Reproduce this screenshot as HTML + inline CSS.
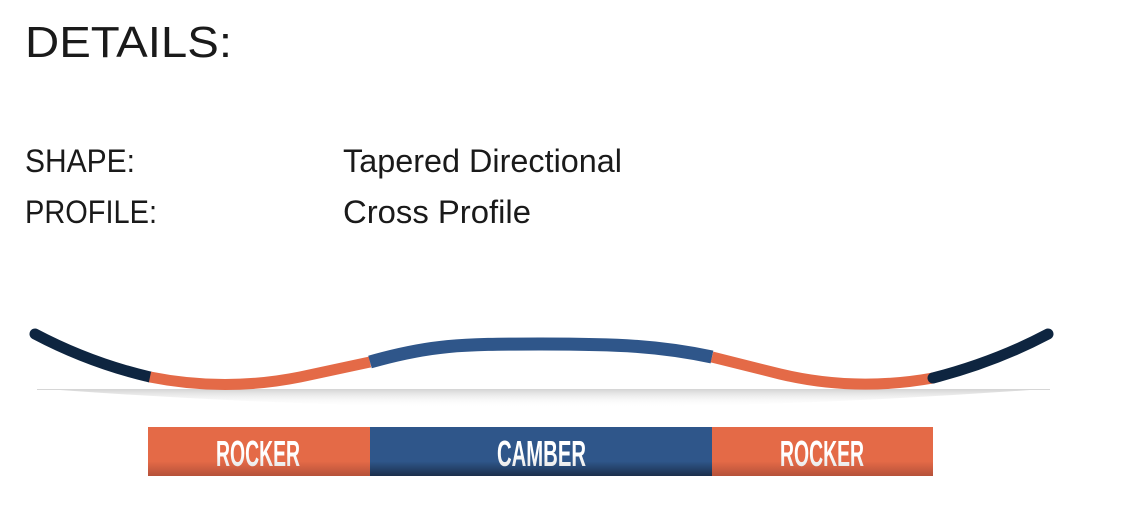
<!DOCTYPE html>
<html><head><meta charset="utf-8"><style>
html,body{margin:0;padding:0;background:#fff;width:1133px;height:517px;overflow:hidden}
</style></head><body>
<svg width="1133" height="517" viewBox="0 0 1133 517" xmlns="http://www.w3.org/2000/svg">
<defs>
<linearGradient id="sh" x1="0" y1="0" x2="0" y2="1">
<stop offset="0" stop-color="#d8d8d8"/><stop offset="1" stop-color="#fff" stop-opacity="0"/>
</linearGradient>
<linearGradient id="bo" x1="0" y1="0" x2="0" y2="1">
<stop offset="0.7" stop-color="#e46a47"/><stop offset="1" stop-color="#b5513a"/>
</linearGradient>
<linearGradient id="bb" x1="0" y1="0" x2="0" y2="1">
<stop offset="0.7" stop-color="#2f568a"/><stop offset="1" stop-color="#1b2f4c"/>
</linearGradient>
<linearGradient id="tx" x1="0" y1="0" x2="0" y2="1">
<stop offset="0.5" stop-color="#fff"/><stop offset="1" stop-color="#ddd"/>
</linearGradient>
</defs>
<g font-family="Liberation Sans, sans-serif" fill="#1a1a1a">
<text x="25" y="57" font-size="44" textLength="207" lengthAdjust="spacingAndGlyphs">DETAILS:</text>
<text x="25" y="172" font-size="32" textLength="110" lengthAdjust="spacingAndGlyphs">SHAPE:</text>
<text x="343" y="172" font-size="32" textLength="279" lengthAdjust="spacingAndGlyphs">Tapered Directional</text>
<text x="25" y="223" font-size="32" textLength="132" lengthAdjust="spacingAndGlyphs">PROFILE:</text>
<text x="343" y="223" font-size="32" textLength="188" lengthAdjust="spacingAndGlyphs">Cross Profile</text>
</g>
<path d="M60 390 Q540 425 1030 390 Z" fill="url(#sh)"/>
<line x1="37" y1="389.5" x2="1050" y2="389.5" stroke="#d6d6d6" stroke-width="1"/>
<g fill="none" stroke-width="11">
<path d="M35 334 Q90 363 150 377" stroke="#0e2540" stroke-linecap="round"/>
<path d="M150 377 Q225 392 300 377 L370 362" stroke="#e46a47"/>
<path d="M370 362 C430 345 460 344 540 344 C620 344 660 346 712 357" stroke="#2f568a" stroke-width="13"/>
<path d="M712 357 L780 374 Q855 392 933 378" stroke="#e46a47"/>
<path d="M933 378 Q995 362 1048 334" stroke="#0e2540" stroke-linecap="round"/>
</g>
<rect x="148" y="427" width="222" height="49" fill="url(#bo)"/>
<rect x="370" y="427" width="342" height="49" fill="url(#bb)"/>
<rect x="712" y="427" width="221" height="49" fill="url(#bo)"/>
<g font-family="Liberation Sans, sans-serif" font-weight="bold" font-size="36" fill="url(#tx)">
<text x="216" y="466" textLength="84" lengthAdjust="spacingAndGlyphs">ROCKER</text>
<text x="497" y="466" textLength="89" lengthAdjust="spacingAndGlyphs">CAMBER</text>
<text x="780" y="466" textLength="84" lengthAdjust="spacingAndGlyphs">ROCKER</text>
</g>
</svg>
</body></html>
